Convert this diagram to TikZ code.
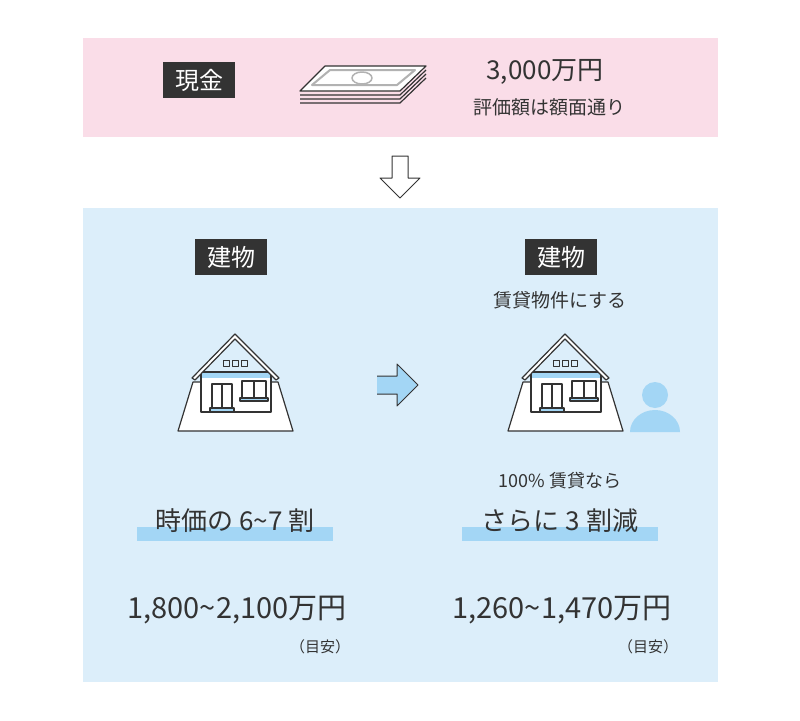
\documentclass[tikz,border=0pt]{standalone}
\usepackage{fontspec}
\setmainfont{Noto Sans CJK JP}
\begin{document}
\begin{tikzpicture}[x=1pt,y=-1pt,line width=1.2pt,line join=round]
        \definecolor{pinkbg}{HTML}{FADDE8}
        \definecolor{bluebg}{HTML}{DCEEFA}
        \definecolor{skyblue}{HTML}{A3D6F5}
        \definecolor{ink}{HTML}{333333}
        \tikzset{
            tag/.style={fill=ink,text=white,font=\fontsize{24}{24}\selectfont,inner xsep=12pt,inner ysep=7pt},
            txt/.style={text=ink,font=\fontsize{#1}{#1}\selectfont,inner sep=0pt},
            bar/.style={fill=skyblue,draw=none},
        }
        \newcommand{\house}[1]{%
          \begin{scope}[shift={(#1,0)}]
            \draw[ink,fill=white] (-42,382) -- (43,382) -- (58,431) -- (-57,431) -- cycle;
            \draw[ink,fill=white] (-34,372) rectangle (36,412);
            \fill[skyblue] (-33,373) rectangle (35,378);
            \draw[ink,fill=white] (-43,378) -- (0,334) -- (44,378) -- (41,380) -- (0,339) -- (-40,380) -- cycle;
            \foreach \i in {-9,0,9} \draw[ink,line width=1pt] (\i-3,360) rectangle (\i+3,366);
            \draw[ink,fill=white] (-23,384) rectangle (-3,410);
            \draw[ink] (-13,384) -- (-13,410);
            \draw[ink,fill=skyblue] (-25,408) rectangle (-1,412);
            \draw[ink,fill=white] (7,381) rectangle (31,398);
            \draw[ink] (19,381) -- (19,398);
            \draw[ink,fill=skyblue] (5,398) rectangle (33,401);
          \end{scope}}

        \useasboundingbox (0,0) rectangle (800,720);
        \fill[white] (0,0) rectangle (800,720);
        \fill[pinkbg] (83,38) rectangle (718,137);
        \fill[bluebg] (83,208) rectangle (718,682);

        % cash
        \node[tag] (cash) at (199,80) {現金};
        \foreach \d in {12,8,4} \draw[ink] (300,91+\d) -- (400,91+\d) -- (426,66+\d);
        \draw[ink,fill=white] (300,91) -- (325,66) -- (426,66) -- (400,91) -- cycle;
        \draw[gray!60,line width=2pt] (312,85) -- (330,70) -- (415,70) -- (397,85) -- cycle;
        \draw[gray!60,line width=1.5pt] (362,78) ellipse [x radius=10,y radius=6];
        \node[txt=26] (amount) at (545,72) {3,000万円};
        \node[txt=19] (note) at (549,107) {評価額は額面通り};

        % down arrow
        \draw[ink,line width=1pt,fill=white] (392,156) -- (408,156) -- (408,178) -- (420,178) -- (400,198) -- (380,178) -- (392,178) -- cycle;

        % building
        \node[tag] (bldA) at (231,257) {建物};
        \node[tag] (bldB) at (561,257) {建物};
        \node[txt=19] (rent) at (560,300) {賃貸物件にする};
        \house{235}
        \house{565}
        \fill[skyblue] (655,395) circle (13);
        \fill[skyblue] (630,432) arc (180:360:25 and 22) -- cycle;
        \draw[ink,fill=skyblue,line width=1pt] (377,376) -- (397,376) -- (397,364) -- (418,385) -- (397,406) -- (397,394) -- (377,394);

        % values
        \fill[bar] (137,527) rectangle (333,541);
        \fill[bar] (462,527) rectangle (658,541);
        \node[txt=18] (full) at (560,481) {100\% 賃貸なら};
        \node[txt=26] (ratioA) at (235,521) {時価の 6\textasciitilde7 割};
        \node[txt=26] (ratioB) at (560,521) {さらに 3 割減};
        \node[txt=29] (valA) at (237,610) {1,800\textasciitilde2,100万円};
        \node[txt=29] (valB) at (562,610) {1,260\textasciitilde1,470万円};
        \node[txt=15] (estA) at (320,647) {（目安）};
        \node[txt=15] (estB) at (648,647) {（目安）};
\end{tikzpicture}
\end{document}
